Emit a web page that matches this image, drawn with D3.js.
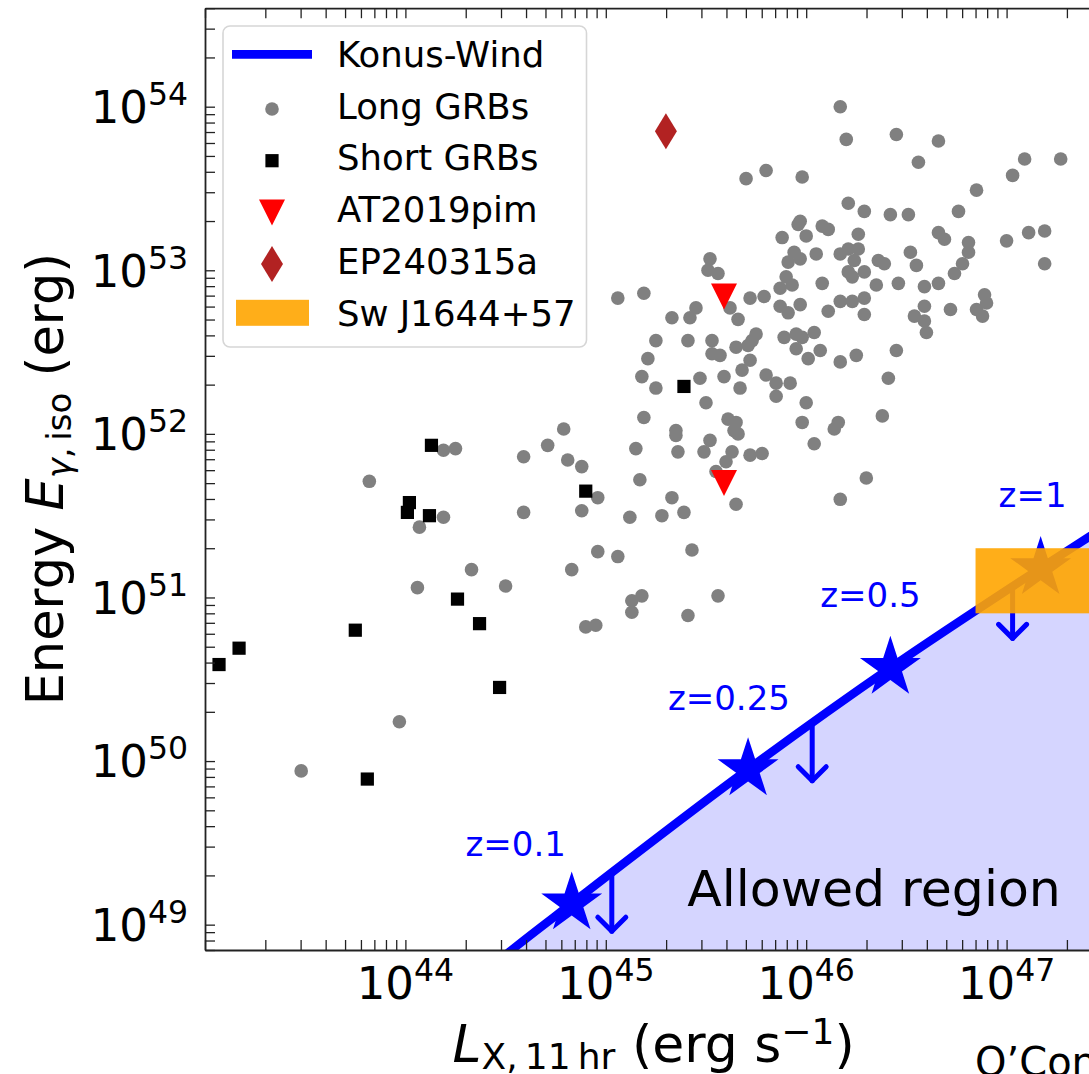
<!DOCTYPE html>
<html>
<head>
<meta charset="utf-8">
<script src="https://cdn.jsdelivr.net/npm/d3@7"></script>
<style>
  body { margin: 0; background: #fff; }
  svg { display: block; font-family: "DejaVu Sans", sans-serif; }
</style>
</head>
<body>
<div id="chart"></div>
<script>
// values, as [log10 L_X, log10 E_iso]
const longGRBs = [
  [46.17,54.00],[46.20,53.80],[46.45,53.83],[46.66,53.79],[46.56,53.66],[47.09,53.68],[47.27,53.68],[47.03,53.58],
  [45.70,53.56],[45.80,53.61],[45.98,53.57],[46.85,53.49],[46.21,53.41],[46.29,53.36],[46.42,53.34],[46.51,53.34],
  [46.76,53.36],[45.97,53.30],[45.96,53.28],[46.08,53.27],[46.11,53.25],[45.88,53.20],[46.00,53.21],[46.26,53.22],
  [46.66,53.23],[46.69,53.19],[46.81,53.17],[47.00,53.18],[47.11,53.23],[47.19,53.24],[46.81,53.11],[46.78,53.04],
  [47.19,53.04],[46.52,53.11],[46.55,53.03],[45.94,53.11],[45.97,53.07],[45.91,53.05],[46.05,53.10],[46.17,53.10],
  [46.21,53.13],[46.26,53.13],[46.24,53.06],[46.36,53.06],[46.39,53.04],[46.21,52.99],[46.23,52.96],[46.29,52.99],
  [46.74,52.98],[45.52,53.07],[45.51,53.00],[45.56,52.98],[45.06,52.83],[45.19,52.86],[45.90,52.96],[45.87,52.89],
  [45.93,52.91],[46.08,52.92],[46.35,52.91],[46.46,52.92],[46.59,52.90],[46.66,52.92],[46.89,52.85],[46.90,52.80],
  [46.85,52.76],[46.88,52.72],[46.72,52.76],[46.59,52.78],[46.54,52.72],[46.59,52.69],[46.60,52.62],[46.29,52.83],
  [46.29,52.73],[46.17,52.81],[46.23,52.81],[46.11,52.75],[45.97,52.79],[45.87,52.78],[45.91,52.74],[45.79,52.84],
  [45.72,52.83],[45.62,52.77],[45.66,52.70],[45.45,52.77],[45.42,52.71],[45.33,52.71],[45.25,52.57],[45.41,52.57],
  [45.53,52.57],[45.75,52.61],[45.73,52.57],[45.71,52.54],[45.65,52.53],[45.89,52.59],[45.95,52.61],[45.98,52.59],
  [46.04,52.62],[45.95,52.52],[46.07,52.51],[46.01,52.46],[46.17,52.44],[46.25,52.48],[46.45,52.51],[45.21,52.46],
  [45.53,52.49],[45.57,52.48],[45.72,52.45],[45.68,52.39],[45.18,52.35],[45.25,52.28],[45.47,52.34],[45.59,52.35],
  [45.67,52.28],[45.80,52.36],[45.85,52.31],[45.92,52.31],[45.85,52.23],[46.00,52.19],[46.41,52.34],[45.50,52.19],
  [45.19,52.10],[45.35,52.02],[45.35,51.99],[45.61,52.09],[45.65,52.07],[45.64,52.02],[45.66,52.00],[45.98,52.07],
  [46.16,52.07],[46.14,52.03],[46.38,52.11],[45.15,51.91],[45.36,51.89],[45.52,51.96],[45.49,51.89],[45.63,51.89],
  [45.60,51.83],[45.72,51.87],[45.78,51.88],[46.04,51.94],[45.17,51.72],[45.55,51.77],[45.33,51.61],[45.12,51.49],
  [45.28,51.50],[45.39,51.52],[45.65,51.57],[46.30,51.73],[46.17,51.60],[43.82,51.71],[44.19,51.90],[44.25,51.91],
  [44.19,51.49],[44.07,51.43],[44.59,51.86],[44.71,51.93],[44.79,52.03],[44.81,51.84],[44.88,51.80],[44.59,51.52],
  [44.88,51.53],[44.96,51.61],[44.96,51.28],[45.06,51.25],[44.83,51.17],[44.33,51.17],[44.06,51.06],[44.50,51.07],
  [44.90,50.82],[44.95,50.83],[43.97,50.24],[43.48,49.94],[45.43,51.29],[45.13,50.98],[45.18,51.01],[45.13,50.91],
  [45.56,51.01],[45.41,50.89]
]

const shortGRBs = [
  [43.07,50.59],[43.17,50.69],[43.75,50.80],[43.81,49.89],[44.02,51.58],[44.01,51.52],[44.13,51.93],
  [44.12,51.50],[44.26,50.99],[44.37,50.84],[44.47,50.45],[44.90,51.65],[45.39,52.29]
]

const at2019pim = [[45.59,52.84],[45.59,51.70]]
const ep240315a = [[45.30,53.85]]

// Sw J1644+57 box (erg/s, erg)
const swL = [7e46, 4e47]
const swE = [8e50, 2e51]

// Konus-Wind limit curve
const konusLogL = [44.30, 44.53, 44.83, 45.71, 46.42, 47.17, 47.60]
const konusLogE = [48.61, 48.845, 49.13, 49.95, 50.57, 51.18, 51.52]

const zNames = ['z=0.1', 'z=0.25', 'z=0.5', 'z=1']
const starLogL = [44.83, 45.71, 46.42, 47.17]
const starLogE = [49.13, 49.95, 50.57, 51.18]
const zLabelLogL = [44.30, 45.31, 46.07, 46.96]
const zLabelLogE = [49.42, 50.31, 50.94, 51.55]

const arrowLogL = [45.03, 46.03, 47.03]
const arrowTopLogE = [49.32, 50.23, 51.06]
const arrowTipLogE = [48.96, 49.88, 50.75]

const xMajorExp = [44, 45, 46, 47]
const yMajorExp = [49, 50, 51, 52, 53, 54]

const legendNames = ['Konus-Wind', 'Long GRBs', 'Short GRBs', 'AT2019pim', 'EP240315a', 'Sw J1644+57']

const w = 1089
const h = 1074
const pLeft = 205, pRight = 1102.2, pTop = 8.2, pBottom = 950

const x = d3.scaleLog().domain([1e43, 3e47]).range([pLeft, pRight])
const y = d3.scaleLog().domain([7e48, 4e54]).range([pBottom, pTop])

const px = l => x(Math.pow(10, l))
const py = e => y(Math.pow(10, e))

const svg = d3.select('#chart')
  .append('svg')
  .attr('width', w)
  .attr('height', h)

svg.append('defs').append('clipPath')
  .attr('id', 'plotclip')
  .append('rect')
  .attr('x', pLeft).attr('y', pTop)
  .attr('width', pRight - pLeft).attr('height', pBottom - pTop)

const plot = svg.append('g').attr('clip-path', 'url(#plotclip)')

const konus = konusLogL.map((l, i) => [l, konusLogE[i]])

// allowed region under the curve
plot.append('path')
  .datum(konus)
  .attr('d', d3.area()
    .x(d => px(d[0]))
    .y0(pBottom + 30)
    .y1(d => py(d[1]))
    .curve(d3.curveMonotoneX))
  .attr('fill', 'blue')
  .attr('fill-opacity', 0.165)

plot.selectAll('.long')
  .data(longGRBs)
  .enter()
  .append('circle')
  .attr('class', 'long')
  .attr('cx', d => px(d[0]))
  .attr('cy', d => py(d[1]))
  .attr('r', 6.8)
  .attr('fill', 'gray')

plot.selectAll('.short')
  .data(shortGRBs)
  .enter()
  .append('rect')
  .attr('class', 'short')
  .attr('x', d => px(d[0]) - 6.6)
  .attr('y', d => py(d[1]) - 6.6)
  .attr('width', 13.2)
  .attr('height', 13.2)
  .attr('fill', 'black')

const triPath = 'M-13,-13L13,-13L0,13Z'
const diaPath = 'M0,-18L11,0L0,18L-11,0Z'

plot.selectAll('.at')
  .data(at2019pim)
  .enter()
  .append('path')
  .attr('d', triPath)
  .attr('transform', d => `translate(${px(d[0])},${py(d[1])})`)
  .attr('fill', 'red')

plot.selectAll('.ep')
  .data(ep240315a)
  .enter()
  .append('path')
  .attr('d', diaPath)
  .attr('transform', d => `translate(${px(d[0])},${py(d[1])})`)
  .attr('fill', 'firebrick')

plot.append('path')
  .datum(konus)
  .attr('d', d3.line()
    .x(d => px(d[0]))
    .y(d => py(d[1]))
    .curve(d3.curveMonotoneX))
  .attr('fill', 'none')
  .attr('stroke', 'blue')
  .attr('stroke-width', 8.5)

const starR = 32
plot.selectAll('.star')
  .data(starLogL.map((l, i) => [l, starLogE[i]]))
  .enter()
  .append('path')
  .attr('d', d3.symbol(d3.symbolStar, starR * starR / 0.8908130915292852))
  .attr('transform', d => `translate(${px(d[0])},${py(d[1])})`)
  .attr('fill', 'blue')

// upper limit arrows
const arrows = plot.selectAll('.arrow')
  .data(arrowLogL.map((l, i) => ({ l: l, t: arrowTopLogE[i], b: arrowTipLogE[i] })))
  .enter()
  .append('g')
  .attr('fill', 'none')
  .attr('stroke', 'blue')
  .attr('stroke-width', 5)
  .attr('stroke-linecap', 'round')
  .attr('stroke-linejoin', 'round')

arrows.append('line')
  .attr('x1', d => px(d.l)).attr('x2', d => px(d.l))
  .attr('y1', d => py(d.t)).attr('y2', d => py(d.b))

arrows.append('path')
  .attr('d', d => {
    const ax = px(d.l), ay = py(d.b)
    return `M${ax - 14},${ay - 14}L${ax},${ay}L${ax + 14},${ay - 14}`
  })

plot.append('rect')
  .attr('x', x(swL[0]))
  .attr('y', y(swE[1]))
  .attr('width', x(swL[1]) - x(swL[0]))
  .attr('height', y(swE[0]) - y(swE[1]))
  .attr('fill', 'orange')
  .attr('fill-opacity', 0.9)

plot.selectAll('.zlab')
  .data(zNames)
  .enter()
  .append('text')
  .attr('x', (d, i) => px(zLabelLogL[i]))
  .attr('y', (d, i) => py(zLabelLogE[i]))
  .attr('fill', 'blue')
  .style('font-size', '34px')
  .text(d => d)

plot.append('text')
  .attr('x', px(45.406))
  .attr('y', py(49.114))
  .style('font-size', '50.5px')
  .text('Allowed region')

// axes, ticks pointing inward on all sides
const xTicks = x.ticks()
const yTicks = y.ticks()

function styleAxis(g) {
  g.selectAll('.tick line').attr('stroke-width', 1.3)
  g.select('.domain').attr('stroke-width', 1.8)
  g.attr('color', '#222')
}

svg.append('g')
  .attr('transform', `translate(0,${pBottom})`)
  .call(d3.axisBottom(x).tickValues(xTicks).tickSize(-10).tickSizeOuter(0).tickFormat(''))
  .call(styleAxis)

svg.append('g')
  .attr('transform', `translate(0,${pTop})`)
  .call(d3.axisTop(x).tickValues(xTicks).tickSize(-10).tickSizeOuter(0).tickFormat(''))
  .call(styleAxis)

svg.append('g')
  .attr('transform', `translate(${pLeft},0)`)
  .call(d3.axisLeft(y).tickValues(yTicks).tickSize(-10).tickSizeOuter(0).tickFormat(''))
  .call(styleAxis)

svg.append('g')
  .attr('transform', `translate(${pRight},0)`)
  .call(d3.axisRight(y).tickValues(yTicks).tickSize(-10).tickSizeOuter(0).tickFormat(''))
  .call(styleAxis)

// tick labels as 10^n
const xLab = svg.selectAll('.xlab')
  .data(xMajorExp)
  .enter()
  .append('text')
  .attr('x', d => x(Math.pow(10, d)))
  .attr('y', 999)
  .attr('text-anchor', 'middle')
  .style('font-size', '45px')
xLab.append('tspan').text('10')
xLab.append('tspan').attr('dy', -18).style('font-size', '31.5px').text(d => d)

const yLab = svg.selectAll('.ylab')
  .data(yMajorExp)
  .enter()
  .append('text')
  .attr('x', 188)
  .attr('y', d => y(Math.pow(10, d)) + 16.4)
  .attr('text-anchor', 'end')
  .style('font-size', '45px')
yLab.append('tspan').text('10')
yLab.append('tspan').attr('dy', -18).style('font-size', '31.5px').text(d => d)

// axis titles
const xt = svg.append('text')
  .attr('x', (pLeft + pRight) / 2)
  .attr('y', 1062)
  .attr('text-anchor', 'middle')
  .style('font-size', '52px')
xt.append('tspan').style('font-style', 'italic').text('L')
xt.append('tspan').attr('dy', 7).style('font-size', '36px').text('X,\u200911\u2009hr')
xt.append('tspan').attr('dy', -7).text(' (erg s')
xt.append('tspan').attr('dy', -18).style('font-size', '36px').text('\u22121')
xt.append('tspan').attr('dy', 18).text(')')

const yt = svg.append('text')
  .attr('transform', `translate(63,${(pTop + pBottom) / 2}) rotate(-90)`)
  .attr('text-anchor', 'middle')
  .style('font-size', '51px')
yt.append('tspan').text('Energy ')
yt.append('tspan').style('font-style', 'italic').text('E')
yt.append('tspan').attr('dy', 8).style('font-size', '34px').style('font-style', 'italic').text('\u03b3')
yt.append('tspan').style('font-size', '34px').text(',\u2009iso')
yt.append('tspan').attr('dy', -8).text(' (erg)')

svg.append('text')
  .attr('x', 975)
  .attr('y', 1076)
  .style('font-size', '40px')
  .text('O\u2019Connor et al.')

// legend
const leg = svg.append('g')
leg.append('rect')
  .attr('x', 223).attr('y', 26)
  .attr('width', 363.5).attr('height', 321)
  .attr('rx', 7)
  .attr('fill', 'white')
  .attr('fill-opacity', 0.8)
  .attr('stroke', '#d6d6d6')
  .attr('stroke-width', 1.6)

const rowY = i => 54.3 + i * 51.7

leg.selectAll('.ltext')
  .data(legendNames)
  .enter()
  .append('text')
  .attr('x', 337)
  .attr('y', (d, i) => rowY(i) + 12.7)
  .style('font-size', '35.5px')
  .text(d => d)

leg.append('line')
  .attr('x1', 232).attr('x2', 312)
  .attr('y1', rowY(0)).attr('y2', rowY(0))
  .attr('stroke', 'blue').attr('stroke-width', 8.7)
leg.append('circle')
  .attr('cx', 272).attr('cy', rowY(1) + 3).attr('r', 6.8).attr('fill', 'gray')
leg.append('rect')
  .attr('x', 272 - 6.6).attr('y', rowY(2) + 3 - 6.6).attr('width', 13.2).attr('height', 13.2).attr('fill', 'black')
leg.append('path')
  .attr('d', triPath).attr('transform', `translate(272,${rowY(3) + 3})`).attr('fill', 'red')
leg.append('path')
  .attr('d', diaPath).attr('transform', `translate(272,${rowY(4) + 3})`).attr('fill', 'firebrick')
leg.append('rect')
  .attr('x', 236).attr('y', rowY(5) - 13).attr('width', 73).attr('height', 26)
  .attr('fill', 'orange').attr('fill-opacity', 0.9)
</script>
</body>
</html>
